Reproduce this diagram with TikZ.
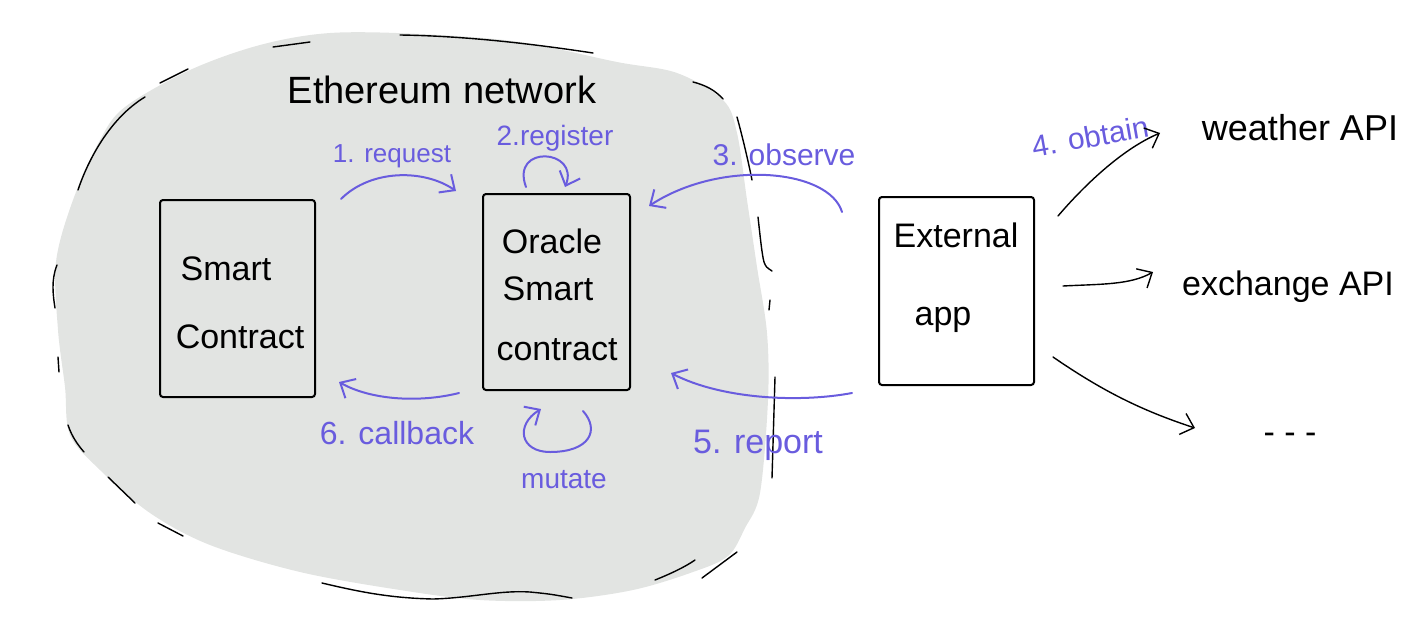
\documentclass[tikz,border=0pt]{standalone}
\usepackage{fontspec}
\setmainfont{Liberation Sans}
\usetikzlibrary{arrows.meta}
\definecolor{netgray}{RGB}{226,228,226}
\definecolor{pen}{RGB}{105,92,222}
\begin{document}
\begin{tikzpicture}[x=0.5pt,y=-0.5pt,
  bx/.style={draw=black,line width=1pt,rounded corners=1.5pt,inner sep=0pt},
  btxt/.style={anchor=base,inner sep=0pt,font=\fontsize{17}{20}\selectfont},
  blab/.style={anchor=base,inner sep=0pt,text=pen},
  barrow/.style={draw=pen,line width=1pt,line cap=round,-{Straight Barb[length=6pt,width=11pt]}},
  karrow/.style={draw=black,line width=0.7pt,line cap=round,-{Straight Barb[length=6pt,width=11pt]}},
  rim/.style={draw=black,line width=0.7pt,line cap=round}
]
\useasboundingbox (0,0) rectangle (1417,616);

% network area
\fill[netgray] plot[smooth cycle,tension=0.55] coordinates {
 (330,33) (420,34) (520,42) (617,62) (677,73) (723,100) (737,133) (747,200)
 (757,267) (767,333) (768,400) (760,493) (745,528) (728,556) (693,572)
 (633,590) (560,600) (480,600) (400,590) (300,572) (210,545) (150,513)
 (100,470) (70,435) (65,387) (58,330) (56,262) (73,200) (100,140)
 (125,107) (190,70) (260,45)};

% hand-drawn rim strokes
\draw[rim] (273,47) -- (310,42);
\draw[rim] (400,35) .. controls (470,36) and (540,45) .. (593,53);
\draw[rim] (160,83) -- (188,69);
\draw[rim] (78,190) .. controls (88,160) and (110,118) .. (145,97);
\draw[rim] (57,265) .. controls (51,280) and (53,295) .. (55,308);
\draw[rim] (58,357) -- (59,372);
\draw[rim] (68,425) .. controls (72,437) and (78,445) .. (84,452);
\draw[rim] (108,477) -- (135,503);
\draw[rim] (158,523) -- (183,536);
\draw[rim] (322,583) .. controls (360,592) and (390,598) .. (433,599)
  .. controls (470,598) and (500,590) .. (530,592) .. controls (550,594) .. (572,598);
\draw[rim] (655,580) .. controls (670,574) and (685,567) .. (695,560);
\draw[rim] (702,578) -- (737,552);
\draw[rim] (693,82) .. controls (705,85) and (715,90) .. (723,99);
\draw[rim] (737,117) .. controls (742,135) and (748,160) .. (752,180);
\draw[rim] (758,217) .. controls (760,235) and (762,255) .. (764,262) .. controls (766,267) .. (772,271);
\draw[rim] (770,300) -- (769,310);
\draw[rim] (775,377) -- (772,478);

% title
\node[anchor=base,inner sep=0pt,font=\fontsize{19}{22}\selectfont] (title) at (442,103) {Ethereum network};

% boxes
\node[bx,minimum width=77.5pt,minimum height=98.5pt] (sc) at (237.5,298.5) {};
\node[bx,minimum width=73.5pt,minimum height=98pt] (osc) at (556.5,292) {};
\node[bx,minimum width=77.5pt,minimum height=94pt] (ext) at (956.5,291) {};

\node[btxt] (sc1) at (226,280) {Smart};
\node[btxt] (sc2) at (240,348) {Contract};
\node[btxt] (o1) at (552,253) {Oracle};
\node[btxt] (o2) at (548,300) {Smart};
\node[btxt] (o3) at (557,360) {contract};
\node[btxt] (e1) at (956,247) {External};
\node[btxt] (e2) at (943,325) {app};

% external services
\node[anchor=base,inner sep=0pt,font=\fontsize{18}{21}\selectfont] (weather) at (1300,140) {weather API};
\node[anchor=base,inner sep=0pt,font=\fontsize{17}{20}\selectfont] (exchange) at (1288,295) {exchange API};
\node[anchor=base,inner sep=0pt,font=\fontsize{17}{20}\selectfont] (more) at (1290,443) {- - -};
\coordinate (obtE) at (1160,133);
\coordinate (excE) at (1153,272);
\coordinate (moreE) at (1195,428);

% blue labels
\node[blab,font=\fontsize{13}{16}\selectfont] (l1) at (392,162) {1. request};
\node[blab,font=\fontsize{14}{17}\selectfont] (l2) at (555,145) {2.register};
\node[blab,font=\fontsize{15}{18}\selectfont] (l3) at (784,165) {3. observe};
\node[blab,font=\fontsize{15}{18}\selectfont,rotate=10] (l4) at (1092,147) {4. obtain};
\node[blab,font=\fontsize{17}{20}\selectfont] (l5) at (758,453) {5. report};
\node[blab,font=\fontsize{16}{19}\selectfont] (l6) at (397,444) {6. callback};
\node[blab,font=\fontsize{14}{17}\selectfont] (l7) at (564,488) {mutate};

% blue connectors
\draw[barrow] ([shift={(25,0)}]sc.north east) .. controls +(30,-30) and +(-32,-22) .. ([shift={(-26,-2)}]osc.north west);
\draw[barrow] ([shift={(-30.5,-6)}]osc.north) .. controls +(-16,-43) and +(15,-38) .. ([shift={(8.5,-6)}]osc.north);
\draw[barrow] ([shift={(-36,16)}]ext.north west) .. controls +(-13,-43) and +(72,-47) .. ([shift={(18,13)}]osc.north east);
\draw[barrow] ([shift={(-26,7)}]ext.south west) .. controls +(-53,10) and +(50,26) .. ([shift={(40,-18)}]osc.south east);
\draw[barrow] ([shift={(-23,2)}]osc.south west) .. controls +(-40,10) and +(32,18) .. ([shift={(23,-16)}]sc.south east);
\draw[barrow] ([shift={(26.5,20)}]osc.south) .. controls (600,430) and (590,452) .. (550,452)
  .. controls (520,452) and (515,425) .. ([shift={(-15.5,18)}]osc.south);

% black connectors
\draw[karrow] ([shift={(23,20)}]ext.north east) .. controls +(23,-27) and +(-40,17) .. (obtE);
\draw[karrow] ([shift={(28,-5)}]ext.east) .. controls +(38,-2) and +(-23,13) .. (excE);
\draw[karrow] ([shift={(18,66)}]ext.east) .. controls +(48,33) and +(-55,-18) .. (moreE);
\end{tikzpicture}
\end{document}
